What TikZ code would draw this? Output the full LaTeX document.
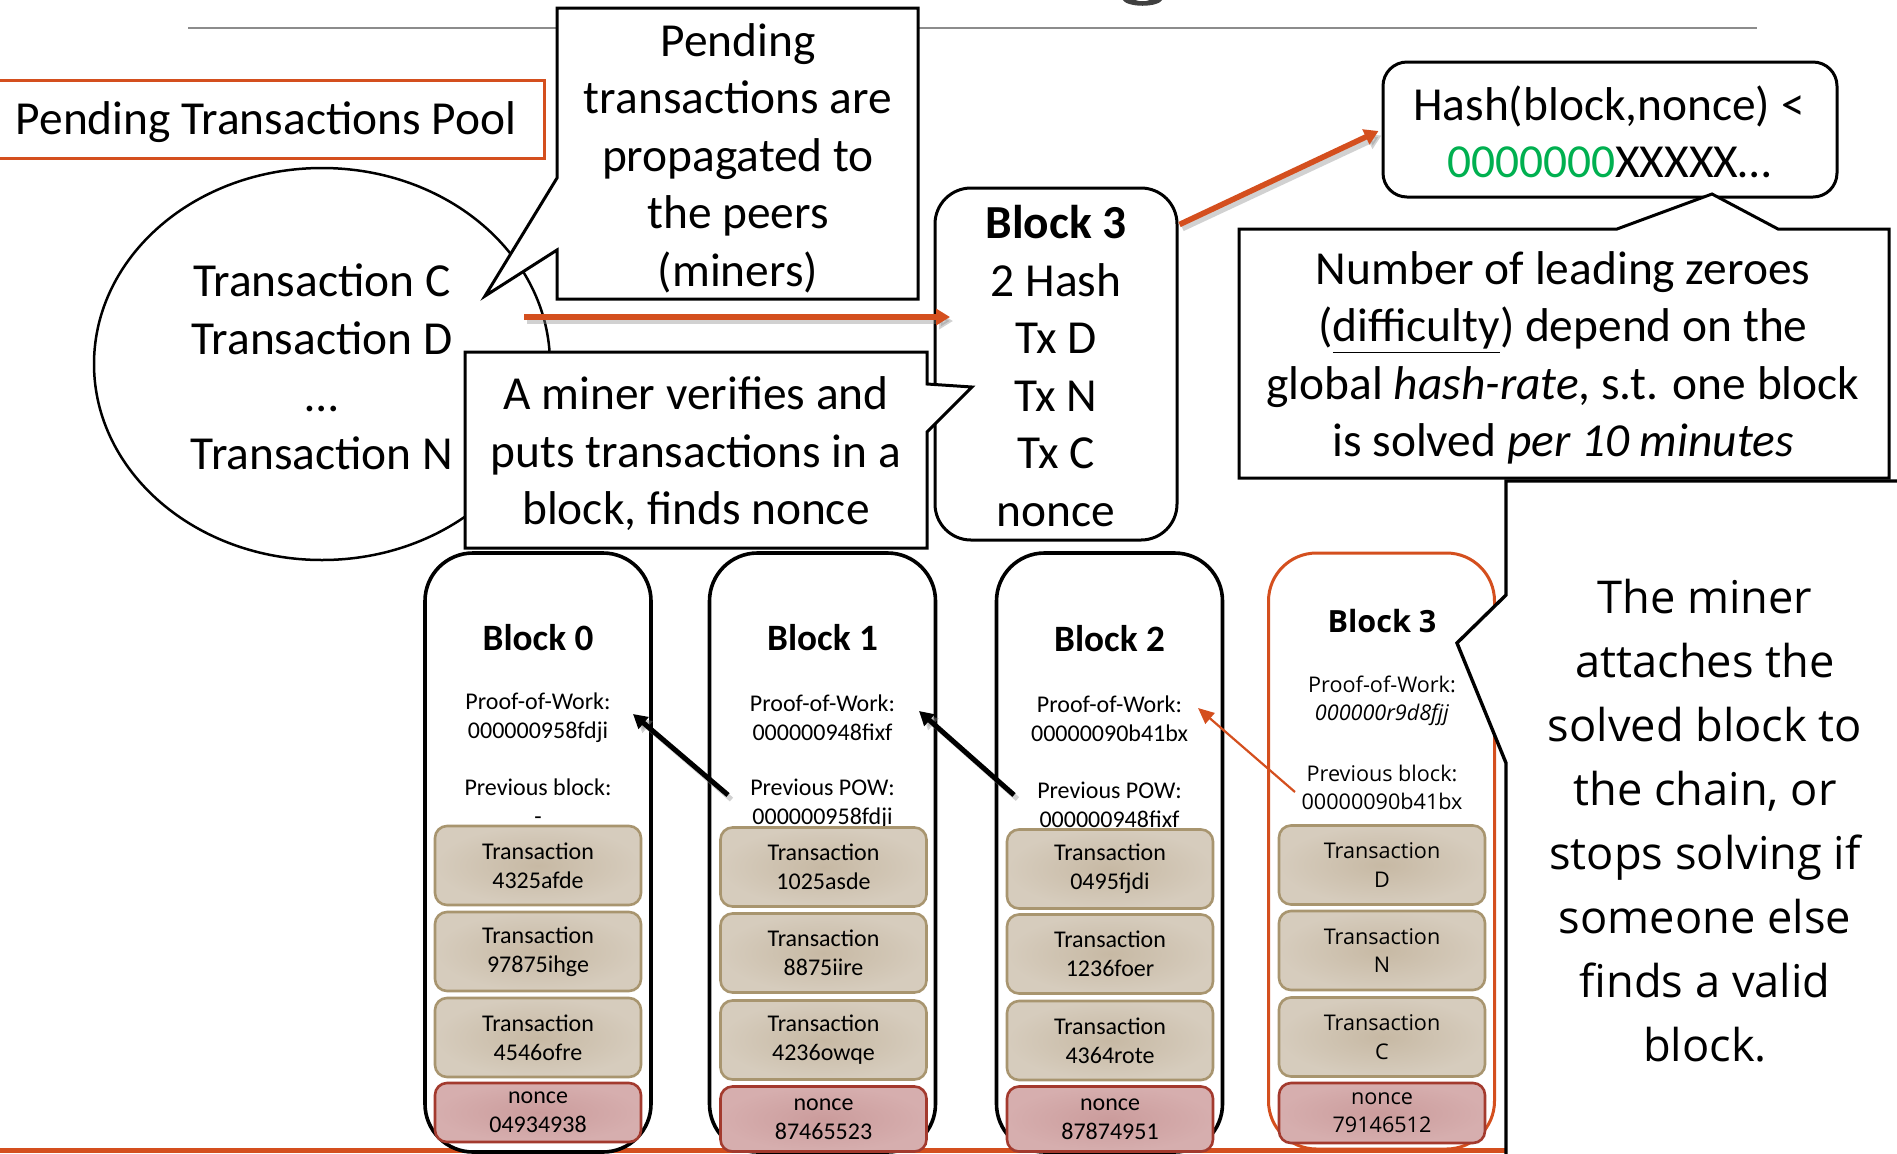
\documentclass[tikz,border=0pt]{standalone}
\usepackage{fontspec}
\setmainfont{Carlito}
\newfontfamily\osans{Open Sans}
\usetikzlibrary{shapes.geometric,arrows.meta,calc}
\definecolor{corange}{HTML}{D44F1E}
\definecolor{cgreen}{HTML}{00B050}
\definecolor{tanin}{HTML}{C7B9A4}
\definecolor{tanout}{HTML}{D6CCBD}
\definecolor{tanline}{HTML}{A8956F}
\definecolor{pinkin}{HTML}{CB9C9C}
\definecolor{pinkout}{HTML}{D6AEAE}
\definecolor{pinkline}{HTML}{A33A2E}
\definecolor{ruleg}{HTML}{8C8C8C}
\definecolor{titleg}{HTML}{404040}
\newcommand\fbig{\fontsize{23.7pt}{28.75pt}\selectfont}
\newcommand\fmid{\osans\fontsize{22.6pt}{32pt}\selectfont}
\newcommand\ftitle{\fontsize{18.6pt}{22pt}\selectfont\bfseries}
\newcommand\fsmall{\fontsize{12pt}{14.5pt}\selectfont}
\newcommand\fotitle{\osans\fontsize{15.3pt}{18pt}\selectfont\bfseries}
\newcommand\fosmall{\osans\fontsize{10.8pt}{14.2pt}\selectfont}
\begin{document}
\begin{tikzpicture}[x=0.5pt,y=-0.5pt,
  txt/.style={inner sep=0pt, align=center},
  bigtext/.style={txt, font=\fbig},
  calloutline/.style={draw=black, fill=white, line width=1.5pt, line join=miter},
  blockbox/.style={draw=black, fill=white, line width=1.8pt, rounded corners=24pt, minimum width=113pt, minimum height=299.5pt, inner sep=0pt},
  tanbox/.style={draw=tanline, line width=1.3pt, rounded corners=6pt, inner color=tanin, outer color=tanout, minimum width=103pt, minimum height=39.5pt, inner sep=0pt, align=center, font=\fsmall},
  noncebox/.style={tanbox, draw=pinkline, inner color=pinkin, outer color=pinkout, minimum height=29.5pt},
  bigarrow/.style={draw=corange, line width=2.8pt, -{Triangle[length=7pt,width=8pt]}},
  blkarrow/.style={draw=black, line width=2.5pt, -{Triangle[length=7pt,width=7.5pt]}},
  shadowline/.style={draw=black!45, opacity=0.4, line width=2.8pt, -{Triangle[length=7pt,width=8pt]}},
]
\useasboundingbox (0,0) rectangle (1897,1153);
% top rule and title fragment
\draw[ruleg, line width=1pt] (188,28) -- (1757,28);
\fill[titleg] (1122,-1) .. controls (1126,8) and (1159,8) .. (1163,-1) -- (1151,-1) .. controls (1148,2) and (1137,2) .. (1134,-1) -- cycle;
% bottom orange rule
\draw[corange, line width=2.5pt] (-5,1150) -- (1506,1150);

% pool
\node[draw=corange, line width=1.5pt, minimum width=274.5pt, minimum height=39pt, inner sep=0pt, font=\fbig] (pool) at (269.5,119) {};
\node[bigtext] (pooltxt) at (266,122) {Pending Transactions Pool};
\node[draw=black, line width=1.25pt, ellipse, minimum width=228pt, minimum height=196pt, inner sep=0pt] (ell) at (322,364) {};
\node[bigtext] (elltxt) at (322,367) {Transaction C\\Transaction D\\…\\Transaction N};

% callout 1
\draw[calloutline] (557,8) -- (918,8) -- (918,299) -- (557,299) -- (557,250) -- (485,296) -- (557,178) -- cycle;
\node[bigtext] (c1) at (738,158) {Pending\\transactions are\\propagated to\\the peers\\(miners)};

% block 3 being mined
\node[draw=black, fill=white, line width=1.5pt, rounded corners=18pt, minimum width=121pt, minimum height=176pt, inner sep=0pt] (b3top) at (1056,364) {};
\node[bigtext] (b3toptxt) at (1056,366) {\textbf{Block 3}\\2 Hash\\Tx D\\Tx N\\Tx C\\nonce};

\draw[shadowline] ([shift={(205,-43)}]ell.center) -- ([shift={(-103,-43)}]b3top.center);
\draw[bigarrow] ([shift={(202,-47)}]ell.center) -- ([shift={(-106,-47)}]b3top.center);

% callout 2
\draw[calloutline] (465,352) -- (927,352) -- (927,384) -- (972,387) -- (927,432) -- (927,548) -- (465,548) -- cycle;
\node[bigtext] (c2) at (696,454) {A miner verifies and\\puts transactions in a\\block, finds nonce};

% hash box
\node[draw=black, fill=white, line width=1.5pt, rounded corners=12pt, minimum width=227pt, minimum height=67.5pt, inner sep=0pt] (hash) at (1610,129.5) {};
\node[bigtext] (hashtxt) at (1609,132) {Hash(block,nonce) <\\\textcolor{cgreen}{0000000}XXXXX…};
\draw[shadowline] ([shift={(4,42)}]b3top.north east) -- ([shift={(0,6)}]hash.west);
\draw[bigarrow] ([shift={(1,38)}]b3top.north east) -- ([shift={(-3,1.5)}]hash.west);

% callout 3
\draw[calloutline] (1239,229) -- (1617,229) -- (1712,194) -- (1778,229) -- (1889,229) -- (1889,478) -- (1239,478) -- cycle;
\node[bigtext] (c3) at (1563,358) {Number of leading zeroes\\(\underline{difficulty}) depend on the\\global \textit{hash-rate}, s.t. one block\\is solved \textit{per 10 minutes}};

% chain blocks
\node[blockbox] (b0) at (538,852.5) {};
\node[blockbox] (b1) at (822.5,852.5) {};
\node[blockbox] (b2) at (1109.5,852.5) {};

\node[txt, font=\ftitle] (b0title) at (538,638) {Block 0};
\node[txt, font=\fsmall] (b0pow) at (538,718) {Proof-of-Work:\\000000958fdji};
\node[txt, font=\fsmall] (b0prev) at (538,802) {Previous block:\\-};
\node[tanbox] (b0t1) at (538,865.5) {Transaction\\4325afde};
\node[tanbox] (b0t2) at (538,951.5) {Transaction\\97875ihge};
\node[tanbox] (b0t3) at (538,1037.5) {Transaction\\4546ofre};
\node[noncebox] (b0n) at (538,1112.5) {nonce\\04934938};

\node[txt, font=\ftitle] (b1title) at (822.5,638) {Block 1};
\node[txt, font=\fsmall] (b1pow) at (822.5,718) {Proof-of-Work:\\000000948fixf};
\node[txt, font=\fsmall] (b1prev) at (822.5,803.5) {Previous POW:\\000000958fdji};
\node[tanbox] (b1t1) at (823.5,867) {Transaction\\1025asde};
\node[tanbox] (b1t2) at (823.5,953) {Transaction\\8875iire};
\node[tanbox] (b1t3) at (823.5,1040) {Transaction\\4236owqe};
\node[noncebox, minimum height=32.5pt] (b1n) at (823.5,1119) {nonce\\87465523};

\node[txt, font=\ftitle] (b2title) at (1109.5,639) {Block 2};
\node[txt, font=\fsmall] (b2pow) at (1109.5,719) {Proof-of-Work:\\00000090b41bx};
\node[txt, font=\fsmall] (b2prev) at (1109.5,804.5) {Previous POW:\\000000948fixf};
\node[tanbox] (b2t1) at (1110,869) {Transaction\\0495fjdi};
\node[tanbox] (b2t2) at (1110,954) {Transaction\\1236foer};
\node[tanbox] (b2t3) at (1110,1040.5) {Transaction\\4364rote};
\node[noncebox, minimum height=32.5pt] (b2n) at (1110,1119) {nonce\\87874951};

% black arrows with shadows
\draw[shadowline, line width=2.5pt, -{Triangle[length=7pt,width=7.5pt]}] ([shift={(-91,-4)}]b1prev.center) -- ([shift={(99,0)}]b0pow.center);
\draw[blkarrow] ([shift={(-94.5,-8.5)}]b1prev.center) -- ([shift={(95,-4)}]b0pow.center);
\draw[shadowline, line width=2.5pt, -{Triangle[length=7pt,width=7.5pt]}] ([shift={(-92,-5.5)}]b2prev.center) -- ([shift={(100.5,-3)}]b1pow.center);
\draw[blkarrow] ([shift={(-95.5,-9.5)}]b2prev.center) -- ([shift={(96.5,-7)}]b1pow.center);

% solved block 3
\node[blockbox, draw=corange, line width=1.5pt, minimum height=298pt] (b3) at (1381.5,851) {};
\node[txt, font=\fotitle] (b3title) at (1382,621) {Block 3};
\node[txt, font=\fosmall] (b3pow) at (1382,701) {Proof-of-Work:\\\textit{000000r9d8fjj}};
\node[txt, font=\fosmall] (b3prev) at (1382,787.5) {Previous block:\\00000090b41bx};
\node[tanbox, font=\fosmall] (b3t1) at (1382,865) {Transaction\\D};
\node[tanbox, font=\fosmall] (b3t2) at (1382,950.5) {Transaction\\N};
\node[tanbox, font=\fosmall] (b3t3) at (1382,1037) {Transaction\\C};
\node[noncebox, font=\fosmall, minimum height=30pt] (b3n) at (1382,1113) {nonce\\79146512};

\draw[draw=corange, line width=1.1pt, -{Triangle[length=8pt,width=7pt]}] ([shift={(-87,4.5)}]b3prev.center) -- ([shift={(88.5,-11)}]b2pow.center);

% callout 4
\draw[calloutline, line width=1.7pt] (1506,1165) -- (1506,763) -- (1457,643) -- (1506,595) -- (1506,481) -- (1905,481) -- (1905,1165) -- cycle;
\node[txt, font=\fmid] (c4) at (1705,821) {The miner\\attaches the\\solved block to\\the chain, or\\stops solving if\\someone else\\finds a valid\\block.};
\end{tikzpicture}
\end{document}
